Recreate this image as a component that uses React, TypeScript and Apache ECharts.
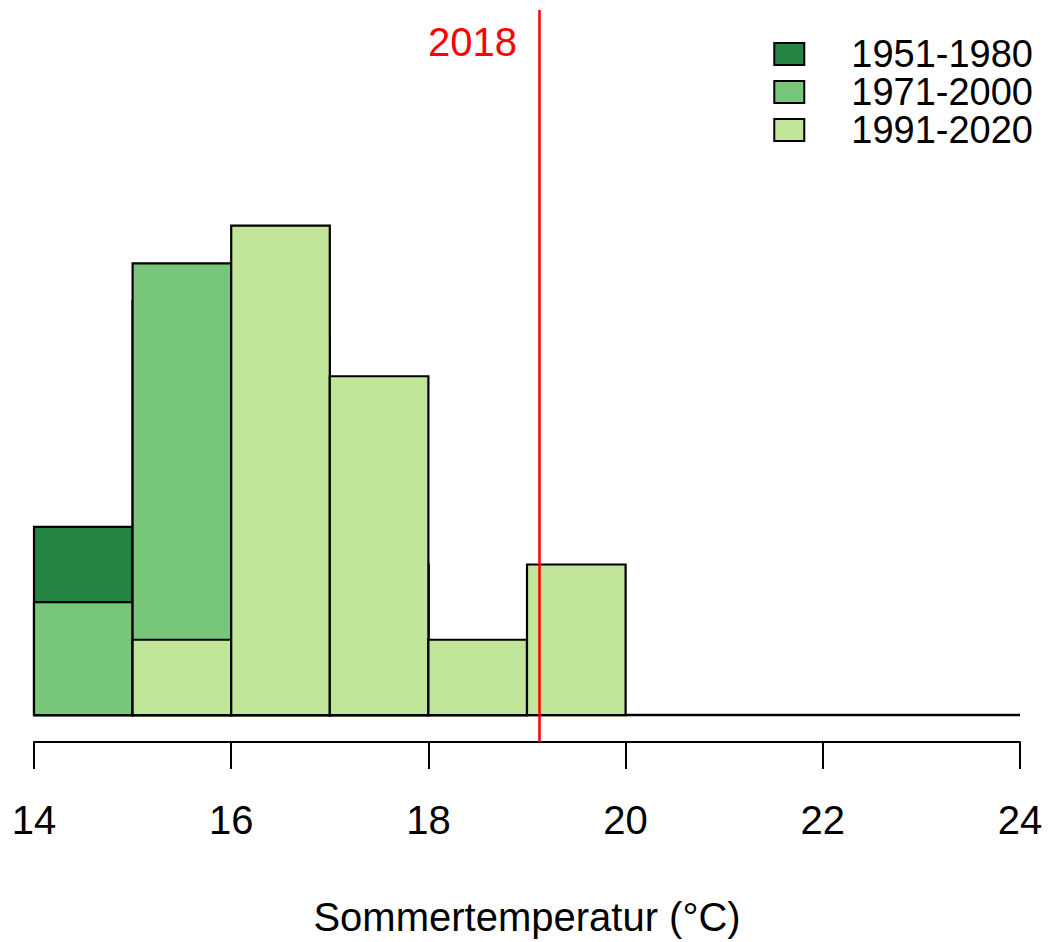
import React, { useEffect, useRef } from "react";
import * as echarts from "echarts";

const binStarts = [14, 15, 16, 17, 18, 19, 20, 21, 22, 23];
const binWidth = 1;
const seriesNames = ["1951-1980", "1971-2000", "1991-2020"];
const seriesColors = ["#238443", "#78C679", "#C2E699"];
// counts per 1°C bin (hidden parts of the earlier periods estimated)
const counts1951 = [5, 11, 10, 4, 0, 0, 0, 0, 0, 0];
const counts1971 = [3, 12, 10, 4, 1, 0, 0, 0, 0, 0];
const counts1991 = [0, 2, 13, 9, 2, 4, 0, 0, 0, 0];
const allCounts = [counts1951, counts1971, counts1991];
const marker2018 = 19.12;
const markerLabel = "2018";
const xTicks = { min: 14, max: 24, interval: 2 };
const xTitle = "Sommertemperatur (°C)";

const FONT = "'Liberation Sans', Arial, Helvetica, sans-serif";

export default function App() {
  const ref = useRef<HTMLDivElement>(null);
  useEffect(() => {
    if (!ref.current) return;
    const chart = echarts.init(ref.current, null, { renderer: "svg" });
    const yMin = -0.716;
    const yMax = 18.73;
    const series: any[] = [];
    series.push({
      type: "line",
      data: [[14, 0], [24, 0]],
      symbol: "none",
      lineStyle: { color: "#000", width: 2.5 },
      silent: true,
      z: 1,
      markLine: {
        silent: true,
        symbol: "none",
        label: { show: false },
        lineStyle: { color: "#ff0000", width: 2.5, type: "solid" },
        data: [{ xAxis: marker2018 }],
        z: 10,
      },
    });
    allCounts.forEach((counts, si) => {
      series.push({
        type: "custom",
        name: seriesNames[si],
        z: 2 + si,
        itemStyle: { color: seriesColors[si] },
        data: binStarts.map((s, i) => [s, s + binWidth, counts[i]]),
        renderItem: (params: any, api: any) => {
          const v = api.value(2);
          if (!v) return null;
          const p0 = api.coord([api.value(0), v]);
          const p1 = api.coord([api.value(1), 0]);
          return {
            type: "rect",
            shape: { x: p0[0], y: p0[1], width: p1[0] - p0[0], height: p1[1] - p0[1] },
            style: { fill: seriesColors[si], stroke: "#000", lineWidth: 2.2 },
          };
        },
      });
    });
    chart.setOption({
      animation: false,
      backgroundColor: "#fff",
      textStyle: { fontFamily: FONT },
      grid: { left: 34, right: 29, top: 10, bottom: 199 },
      legend: {
        orient: "vertical",
        right: 11,
        top: 30,
        itemWidth: 30,
        itemHeight: 22,
        itemGap: 0,
        icon: "rect",
        selectedMode: false,
        textStyle: { fontSize: 38, color: "#000", fontFamily: FONT, lineHeight: 38, padding: [0, 0, 0, 42] },
        data: seriesNames.map((n, i) => ({
          name: n,
          itemStyle: { color: seriesColors[i], borderColor: "#000", borderWidth: 2 },
        })),
      },
      xAxis: {
        type: "value",
        min: xTicks.min,
        max: xTicks.max,
        interval: xTicks.interval,
        name: xTitle,
        nameLocation: "middle",
        nameGap: 155,
        nameTextStyle: { fontSize: 40, color: "#000", fontFamily: FONT },
        axisLine: { onZero: false, lineStyle: { color: "#000", width: 2 } },
        axisTick: { show: true, length: 27, lineStyle: { color: "#000", width: 2 } },
        axisLabel: { fontSize: 40, color: "#000", margin: 58, showMinLabel: true, showMaxLabel: true, fontFamily: FONT },
        splitLine: { show: false },
      },
      yAxis: { type: "value", min: yMin, max: yMax, show: false },
      graphic: [
        {
          type: "text",
          x: 517,
          y: 42,
          style: {
            text: markerLabel,
            fill: "#ff0000",
            font: `40px ${FONT}`,
            textAlign: "right",
            textVerticalAlign: "middle",
          },
        },
      ],
      series,
    });
    return () => chart.dispose();
  }, []);
  return (
    <div
      ref={ref}
      style={{ position: "fixed", left: 0, top: 0, width: 1049, height: 942, background: "#fff" }}
    />
  );
}
